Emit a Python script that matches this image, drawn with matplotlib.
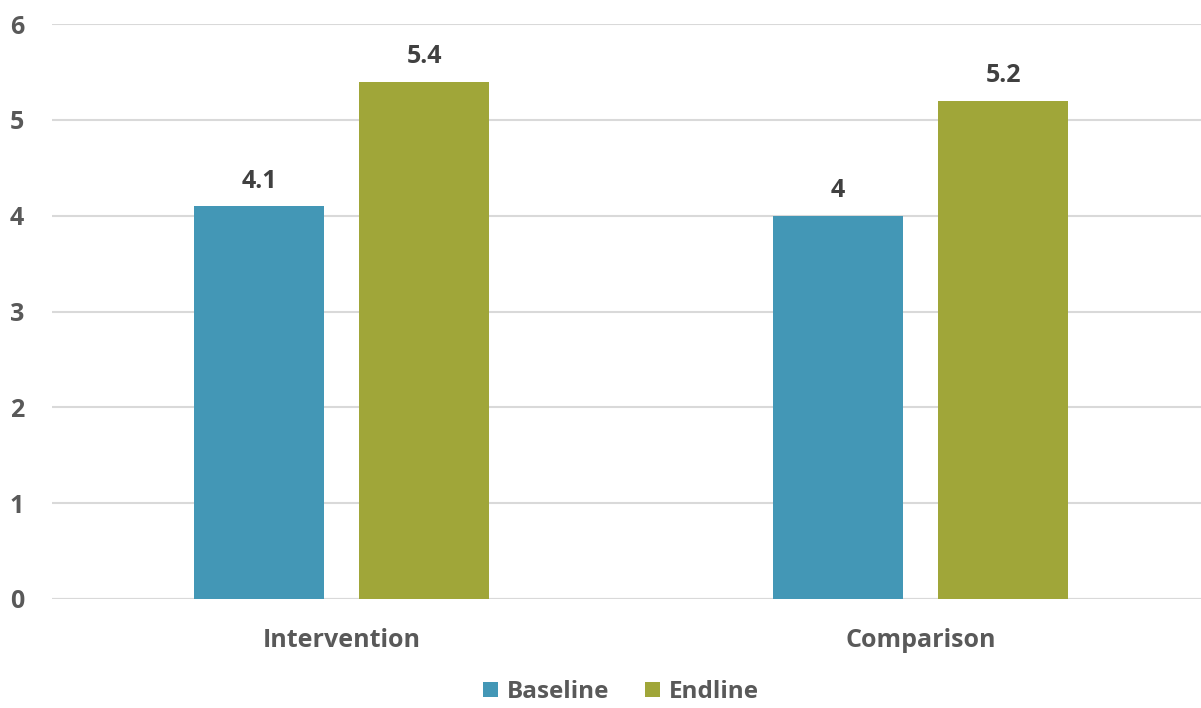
import numpy as np
import matplotlib.pyplot as plt

categories = ['Intervention', 'Comparison']
baseline = [4.1, 4.0]
endline = [5.4, 5.2]
value_labels_base = ['4.1', '4']
value_labels_end = ['5.4', '5.2']

blue = '#4397B6'
olive = '#A0A639'
text_gray = '#595959'

plt.rcParams['font.family'] = ['Open Sans', 'DejaVu Sans']
plt.rcParams['font.weight'] = 'bold'

fig = plt.figure(figsize=(12.01, 7.08), dpi=100)
# the plot area runs a little past the right edge of the canvas
ax = fig.add_axes([52 / 1201, 109 / 708, 1158 / 1201, 575 / 708])

x = np.arange(len(categories))
w = 0.2245
off = 0.1425
b1 = ax.bar(x - off, baseline, w, color=blue, label='Baseline', zorder=3)
b2 = ax.bar(x + off, endline, w, color=olive, label='Endline', zorder=3)

for bars, labels in ((b1, value_labels_base), (b2, value_labels_end)):
    for bar, lab in zip(bars, labels):
        ax.text(bar.get_x() + bar.get_width() / 2, bar.get_height() + 0.13, lab,
                ha='center', va='bottom', fontsize=18, fontweight='bold', color='#404040')

ax.set_xlim(-0.5, 1.5)
ax.set_ylim(0, 6)
ax.set_yticks(range(0, 7))
ax.set_xticks(x)
ax.set_xticklabels(categories)
ax.yaxis.grid(True, color='#D9D9D9', linewidth=1.5, zorder=0)
ax.set_axisbelow(True)
for s in ax.spines.values():
    s.set_visible(False)
ax.axhline(0, color='#D9D9D9', linewidth=1.5, zorder=2)
ax.tick_params(axis='both', length=0, labelsize=18, labelcolor=text_gray)
ax.tick_params(axis='y', pad=20)
ax.tick_params(axis='x', pad=21)
for t in ax.get_xticklabels() + ax.get_yticklabels():
    t.set_fontweight('bold')

fig.legend(loc='center', bbox_to_anchor=(0.517, 16 / 708), ncol=2, frameon=False,
           borderpad=0, borderaxespad=0,
           prop={'size': 17.5, 'weight': 'bold'}, labelcolor=text_gray,
           handlelength=0.6, handleheight=0.6, handletextpad=0.35, columnspacing=1.5)

fig.savefig('out.png', dpi=100)
